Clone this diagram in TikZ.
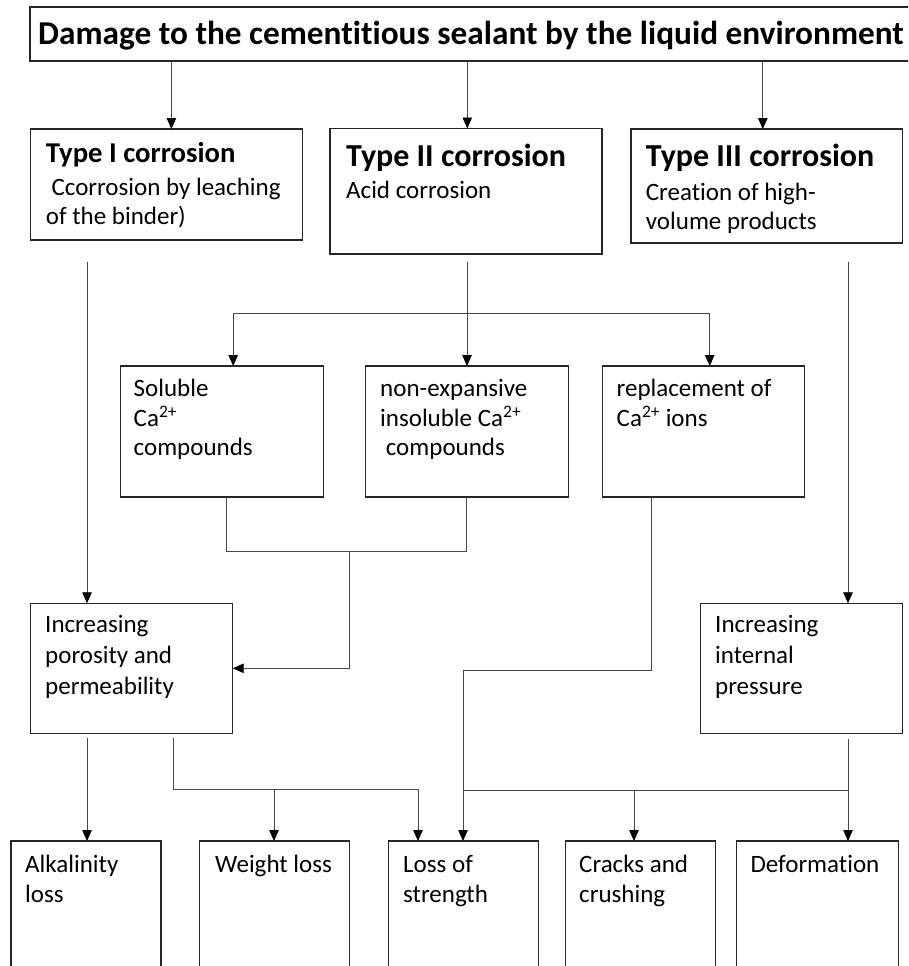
\documentclass[tikz,border=0pt]{standalone}
\usepackage{fontspec}
\setmainfont[Ligatures=NoCommon]{Carlito}
\usetikzlibrary{arrows.meta}
\begin{document}
\begin{tikzpicture}[x=1pt,y=-1pt,
  box/.style={rectangle, draw=black!85, line width=1.2pt, inner sep=0pt, outer sep=0pt, anchor=north west},
  conn/.style={draw=black!72, line width=0.8pt},
  arr/.style={conn, -{Triangle[length=11pt,width=9.5pt,color=black]}},
  txt/.style={anchor=base west, inner sep=0pt, font=\fontsize{25}{29.5}\selectfont},
  head/.style={anchor=base west, inner sep=0pt, font=\bfseries\fontsize{32}{32}\selectfont},
  headi/.style={anchor=base west, inner sep=0pt, font=\bfseries\fontsize{28.7}{28.7}\selectfont},
  ttl/.style={anchor=base west, inner sep=0pt, font=\bfseries\fontsize{33.3}{36}\selectfont}
]
\useasboundingbox (0,0) rectangle (908,966);
\fill[white] (0,0) rectangle (908,966);
\clip (0,0) rectangle (908,966);

% boxes
\node[box, minimum width=885pt, minimum height=54pt] (title) at (30,7) {};
\node[box, minimum width=272pt, minimum height=111pt] (t1) at (30.5,129) {};
\node[box, minimum width=272pt, minimum height=125.5pt] (t2) at (330,128.5) {};
\node[box, minimum width=271.5pt, minimum height=114pt] (t3) at (631,129) {};
\node[box, minimum width=203pt, minimum height=131pt] (sol) at (120.7,366) {};
\node[box, minimum width=203pt, minimum height=131pt] (nonx) at (365.4,366) {};
\node[box, minimum width=202pt, minimum height=131pt] (repl) at (602.7,366) {};
\node[box, minimum width=202pt, minimum height=130pt] (poro) at (30.7,603.3) {};
\node[box, minimum width=202pt, minimum height=130pt] (pres) at (700.7,603.3) {};
\node[box, minimum width=150pt, minimum height=140pt] (alk) at (11,841) {};
\node[box, minimum width=150pt, minimum height=140pt] (wl) at (199.3,841) {};
\node[box, minimum width=150pt, minimum height=140pt] (ls) at (388.4,841) {};
\node[box, minimum width=150.5pt, minimum height=140pt] (ck) at (565.2,841) {};
\node[box, minimum width=162.4pt, minimum height=140pt] (df) at (736.2,841) {};

% texts
\node[ttl] (ttltxt) at (38,45) {Damage to the cementitious sealant by the liquid environment};
\node[headi] (h1) at (45.7,162.7) {Type I corrosion};
\node[txt] (t1txt) at (45.7,195) {\begin{tabular}[t]{@{}l@{}}\ Ccorrosion by leaching\\of the binder)\end{tabular}};
\node[head] (h2) at (346,166) {Type II corrosion};
\node[txt] (t2txt) at (346,198.3) {Acid corrosion};
\node[head] (h3) at (645.7,166.7) {Type III corrosion};
\node[txt] (t3txt) at (645.7,200) {\begin{tabular}[t]{@{}l@{}}Creation of high-\\volume products\end{tabular}};
\node[txt] (soltxt) at (133.5,396.7) {\begin{tabular}[t]{@{}l@{}}Soluble\\Ca\textsuperscript{2+}\\compounds\end{tabular}};
\node[txt] (nonxtxt) at (380,396.7) {\begin{tabular}[t]{@{}l@{}}non-expansive\\insoluble Ca\textsuperscript{2+}\\\ compounds\end{tabular}};
\node[txt] (repltxt) at (616.5,396.7) {\begin{tabular}[t]{@{}l@{}}replacement of\\Ca\textsuperscript{2+} ions\end{tabular}};
\node[txt, font=\fontsize{25}{31}\selectfont] (porotxt) at (45,632.3) {\begin{tabular}[t]{@{}l@{}}Increasing\\porosity and\\permeability\end{tabular}};
\node[txt, font=\fontsize{25}{31}\selectfont] (prestxt) at (715,632.3) {\begin{tabular}[t]{@{}l@{}}Increasing\\internal\\pressure\end{tabular}};
\node[txt, font=\fontsize{25}{30}\selectfont] (alktxt) at (25,872) {\begin{tabular}[t]{@{}l@{}}Alkalinity\\loss\end{tabular}};
\node[txt] (wltxt) at (215,872) {Weight loss};
\node[txt, font=\fontsize{25}{30}\selectfont] (lstxt) at (403,872) {\begin{tabular}[t]{@{}l@{}}Loss of\\strength\end{tabular}};
\node[txt, font=\fontsize{25}{30}\selectfont] (cktxt) at (579,872) {\begin{tabular}[t]{@{}l@{}}Cracks and\\crushing\end{tabular}};
\node[txt] (dftxt) at (750.4,872) {Deformation};

% helper coordinates
\coordinate (c1) at (171.4,0);
\coordinate (c2) at (467.3,0);
\coordinate (c3) at (762.8,0);
\coordinate (t1s) at (87,262);
\coordinate (t2s) at (467,262);
\coordinate (t3s) at (848,262);
\coordinate (j2) at (467,313);
\coordinate (a1) at (233.2,313);
\coordinate (a3) at (709.7,313);
\coordinate (m1) at (226.3,551);
\coordinate (m2) at (466.4,551);
\coordinate (mj) at (349,551);
\coordinate (rx) at (651,0);
\coordinate (r2) at (463,670);
\coordinate (p1) at (87,738);
\coordinate (p2) at (173.7,738);
\coordinate (h1j) at (418,789.3);
\coordinate (wlj) at (274,789.3);
\coordinate (q1) at (848,739);
\coordinate (q1h) at (848,790.7);
\coordinate (ckj) at (634,790.7);

% connectors
\draw[arr] (title.south -| c1) -- (t1.north -| c1);
\draw[arr] (title.south -| c2) -- (t2.north -| c2);
\draw[arr] (title.south -| c3) -- (t3.north -| c3);
\draw[arr] (t1s) -- (poro.north -| t1s);
\draw[arr] (t3s) -- (pres.north -| t3s);
\draw[conn] (t2s) -- (j2);
\draw[conn] (a1) -- (a3);
\draw[arr] (a1) -- (sol.north -| a1);
\draw[arr] (j2) -- (nonx.north -| j2);
\draw[arr] (a3) -- (repl.north -| a3);
\draw[conn] (sol.south -| m1) -- (m1) -- (m2) -- (nonx.south -| m2);
\draw[arr] (mj) |- (poro.east);
\draw[arr] (repl.south -| rx) |- (r2) -- (ls.north -| r2);
\draw[arr] (p1) -- (alk.north -| p1);
\draw[arr] (p2) |- (h1j) -- (ls.north -| h1j);
\draw[arr] (wlj) -- (wl.north -| wlj);
\draw[arr] (q1) -- (df.north -| q1);
\draw[conn] (r2 |- q1h) -- (q1h);
\draw[arr] (ckj) -- (ck.north -| ckj);
\end{tikzpicture}
\end{document}
